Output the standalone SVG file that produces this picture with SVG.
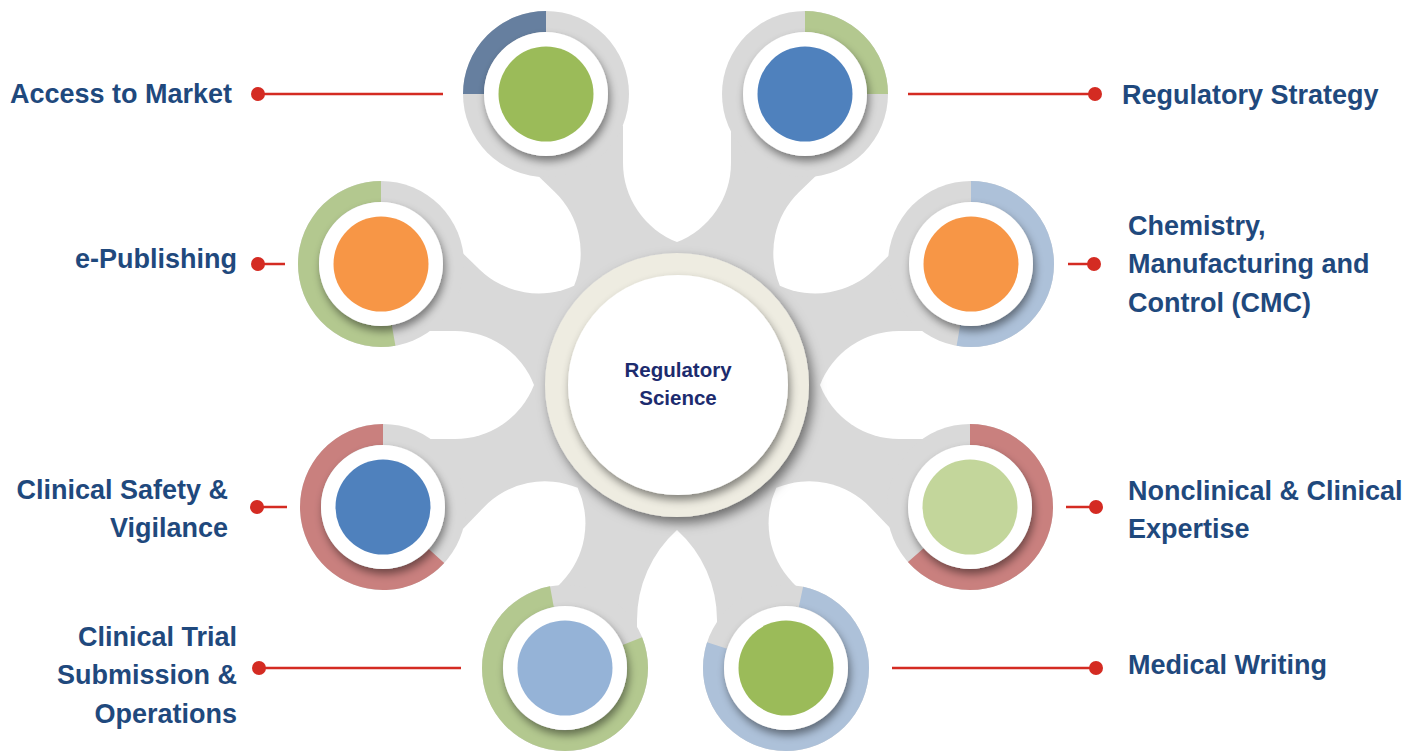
<svg xmlns="http://www.w3.org/2000/svg" width="1412" height="753" viewBox="0 0 1412 753">
<defs>
<style>
.gray{fill:#d9d9d9}
.gap{fill:#ffffff}
.ring{fill:#d9d9d9}
.arc{fill:none;stroke-width:21}
.wh{fill:#ffffff;filter:url(#sh)}
.lbl{font-family:"Liberation Sans",Arial,sans-serif;font-weight:bold;font-size:27px;fill:#1f497d}
.ctr{font-family:"Liberation Sans",Arial,sans-serif;font-weight:bold;font-size:20.5px;fill:#1c2b6e;text-anchor:middle}
.ln{stroke:#d42b22;stroke-width:2.5;fill:none}
.dot{fill:#d42b22}
</style>
<filter id="sh" x="-30%" y="-30%" width="160%" height="160%">
<feDropShadow dx="2" dy="5" stdDeviation="4" flood-color="#000" flood-opacity="0.45"/>
</filter>
<filter id="shc" x="-30%" y="-30%" width="160%" height="160%">
<feDropShadow dx="4" dy="6" stdDeviation="6" flood-color="#000" flood-opacity="0.5"/>
</filter>
<path id="gapStd" d="M143,0 A84.8,84.8 0 0 1 222,-54 L300,-54 L300,54 L222,54 A84.8,84.8 0 0 1 143,0 Z"/>
<path id="gapBot" d="M145,0 A121.25,121.25 0 0 1 235,-40 L300,-40 L300,40 L235,40 A121.25,121.25 0 0 1 145,0 Z"/>
</defs>
<rect width="1412" height="753" fill="#ffffff"/>
<g id="hub-shape">
<circle class="gray" cx="677" cy="385" r="265"/>
<g class="gap" transform="translate(677,385)">
<use href="#gapStd" transform="rotate(-90)"/>
<use href="#gapStd" transform="rotate(-44)"/>
<use href="#gapStd" transform="rotate(0)"/>
<use href="#gapStd" transform="rotate(46)"/>
<use href="#gapBot" transform="rotate(90)"/>
<use href="#gapStd" transform="rotate(134)"/>
<use href="#gapStd" transform="rotate(180)"/>
<use href="#gapStd" transform="rotate(-136)"/>
</g>
</g>
<g id="connectors">
<line class="ln" x1="258" y1="94" x2="443" y2="94"/><circle class="dot" cx="258" cy="94" r="7"/>
<line class="ln" x1="908" y1="94" x2="1095" y2="94"/><circle class="dot" cx="1095" cy="94" r="7"/>
<line class="ln" x1="258" y1="264" x2="285" y2="264"/><circle class="dot" cx="258" cy="264" r="7"/>
<line class="ln" x1="1068" y1="264" x2="1094" y2="264"/><circle class="dot" cx="1094" cy="264" r="7"/>
<line class="ln" x1="257" y1="507" x2="287" y2="507"/><circle class="dot" cx="257" cy="507" r="7"/>
<line class="ln" x1="1066" y1="507" x2="1096" y2="507"/><circle class="dot" cx="1096" cy="507" r="7"/>
<line class="ln" x1="259" y1="668" x2="461" y2="668"/><circle class="dot" cx="259" cy="668" r="7"/>
<line class="ln" x1="892" y1="668" x2="1096" y2="668"/><circle class="dot" cx="1096" cy="668" r="7"/>
</g>
<g id="node-center">
<circle cx="677" cy="385" r="132" fill="#eeece1" filter="url(#shc)"/>
<circle cx="678" cy="385" r="110" fill="#ffffff" filter="url(#sh)"/>
<text class="ctr" x="678" y="377">Regulatory</text>
<text class="ctr" x="678" y="405">Science</text>
</g>
<g id="node-access">
<circle class="ring" cx="546" cy="94" r="83"/>
<circle class="arc" cx="546" cy="94" r="72.5" pathLength="360" stroke="#667f9f" stroke-dasharray="90 400" transform="rotate(180 546 94)"/>
<circle class="wh" cx="546" cy="94" r="62"/>
<circle cx="546" cy="94" r="47.5" fill="#9bbb59"/>
<text class="lbl" x="10" y="103">Access to Market</text>
</g>
<g id="node-strategy">
<circle class="ring" cx="805" cy="94" r="83"/>
<circle class="arc" cx="805" cy="94" r="72.5" pathLength="360" stroke="#b3c88f" stroke-dasharray="90 400" transform="rotate(-90 805 94)"/>
<circle class="wh" cx="805" cy="94" r="62"/>
<circle cx="805" cy="94" r="47.5" fill="#4f81bd"/>
<text class="lbl" x="1122" y="104">Regulatory Strategy</text>
</g>
<g id="node-epublishing">
<circle class="ring" cx="381" cy="264" r="83"/>
<circle class="arc" cx="381" cy="264" r="72.5" pathLength="360" stroke="#b3c88f" stroke-dasharray="190 400" transform="rotate(80 381 264)"/>
<circle class="wh" cx="381" cy="264" r="62"/>
<circle cx="381" cy="264" r="47.5" fill="#f79646"/>
<text class="lbl" x="237" y="268" text-anchor="end">e-Publishing</text>
</g>
<g id="node-cmc">
<circle class="ring" cx="971" cy="264" r="83"/>
<circle class="arc" cx="971" cy="264" r="72.5" pathLength="360" stroke="#adc1d9" stroke-dasharray="190 400" transform="rotate(-90 971 264)"/>
<circle class="wh" cx="971" cy="264" r="62"/>
<circle cx="971" cy="264" r="47.5" fill="#f79646"/>
<text class="lbl" x="1128" y="235">Chemistry,</text>
<text class="lbl" x="1128" y="273">Manufacturing and</text>
<text class="lbl" x="1128" y="312">Control (CMC)</text>
</g>
<g id="node-safety">
<circle class="ring" cx="383" cy="507" r="83"/>
<circle class="arc" cx="383" cy="507" r="72.5" pathLength="360" stroke="#c9807e" stroke-dasharray="227.5 400" transform="rotate(42.5 383 507)"/>
<circle class="wh" cx="383" cy="507" r="62"/>
<circle cx="383" cy="507" r="47.5" fill="#4f81bd"/>
<text class="lbl" x="228" y="499" text-anchor="end">Clinical Safety &amp;</text>
<text class="lbl" x="228" y="537" text-anchor="end">Vigilance</text>
</g>
<g id="node-nonclinical">
<circle class="ring" cx="970" cy="507" r="83"/>
<circle class="arc" cx="970" cy="507" r="72.5" pathLength="360" stroke="#c9807e" stroke-dasharray="228.4 400" transform="rotate(-90 970 507)"/>
<circle class="wh" cx="970" cy="507" r="62"/>
<circle cx="970" cy="507" r="47.5" fill="#c3d69b"/>
<text class="lbl" x="1128" y="500">Nonclinical &amp; Clinical</text>
<text class="lbl" x="1128" y="538">Expertise</text>
</g>
<g id="node-trial">
<circle class="ring" cx="565" cy="668" r="83"/>
<circle class="arc" cx="565" cy="668" r="72.5" pathLength="360" stroke="#b3c88f" stroke-dasharray="281.3 400" transform="rotate(-21.7 565 668)"/>
<circle class="wh" cx="565" cy="668" r="62"/>
<circle cx="565" cy="668" r="47.5" fill="#95b3d7"/>
<text class="lbl" x="237" y="646" text-anchor="end">Clinical Trial</text>
<text class="lbl" x="237" y="684" text-anchor="end">Submission &amp;</text>
<text class="lbl" x="237" y="723" text-anchor="end">Operations</text>
</g>
<g id="node-writing">
<circle class="ring" cx="786" cy="668" r="83"/>
<circle class="arc" cx="786" cy="668" r="72.5" pathLength="360" stroke="#adc1d9" stroke-dasharray="276.3 400" transform="rotate(-78.1 786 668)"/>
<circle class="wh" cx="786" cy="668" r="62"/>
<circle cx="786" cy="668" r="47.5" fill="#9bbb59"/>
<text class="lbl" x="1128" y="674">Medical Writing</text>
</g>
</svg>
